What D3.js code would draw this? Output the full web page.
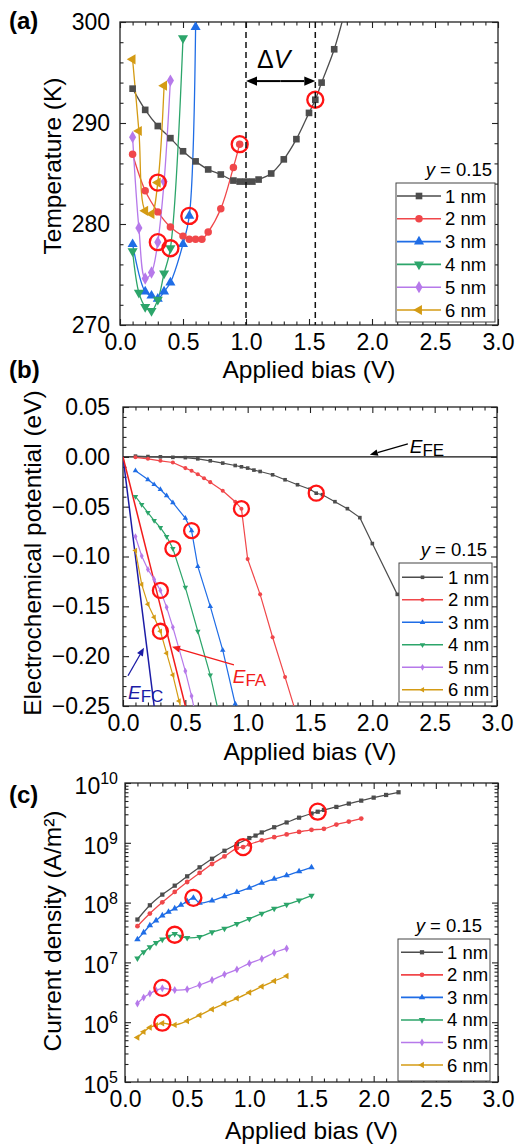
<!DOCTYPE html>
<html>
<head>
<meta charset="utf-8">
<script src="https://cdn.jsdelivr.net/npm/d3@7/dist/d3.min.js"></script>
<style>
html, body { margin:0; padding:0; background:#fff; }
svg { display:block; font-family:"Liberation Sans", Arial, sans-serif; }
</style>
</head>
<body>
<svg id="fig" width="517" height="1146"></svg>
<script>
'use strict';

/* ------------------------------------------------------------------ data */
var LABELS = ['1 nm', '2 nm', '3 nm', '4 nm', '5 nm', '6 nm'];
var LEGEND_TITLE = '0.15';
var X_TICKS = [0, 0.5, 1, 1.5, 2, 2.5, 3];

// (a) temperature (K) vs applied bias (V)
var T_1NM = [[0.1,293.4],[0.2,291.3],[0.3,289.7],[0.4,288.5],[0.5,287.2],[0.6,286.2],[0.7,285.4],[0.8,284.9],[0.9,284.3],[0.95,284.2],[1.0,284.2],[1.05,284.2],[1.1,284.4],[1.2,285.0],[1.3,286.4],[1.4,288.4],[1.5,291.0],[1.55,292.3],[1.6,294.0],[1.7,297.3],[1.8,301.8]];
var T_2NM = [[0.1,286.9],[0.2,283.3],[0.3,281.2],[0.4,279.7],[0.5,278.8],[0.55,278.5],[0.6,278.5],[0.65,278.5],[0.7,279.2],[0.8,281.5],[0.9,285.6],[0.95,287.9]];
var T_3NM = [[0.1,278.0],[0.2,273.3],[0.25,272.9],[0.3,272.6],[0.35,273.3],[0.4,274.2],[0.5,278.0],[0.55,280.8],[0.6,299.5]];
var T_4NM = [[0.1,277.3],[0.15,273.2],[0.2,271.8],[0.25,271.4],[0.3,272.5],[0.35,275.1],[0.4,277.6],[0.5,298.4]];
var T_5NM = [[0.1,288.6],[0.15,279.6],[0.2,274.6],[0.25,275.2],[0.3,278.2],[0.35,284.2],[0.4,294.2]];
var T_6NM = [[0.1,296.3],[0.15,289.2],[0.2,281.3],[0.25,281.0],[0.3,284.1],[0.35,293.7]];
var T_MARKED = [[1.55,292.3],[0.95,287.9],[0.55,280.8],[0.4,277.6],[0.3,278.2],[0.3,284.1]];
var DELTA_V = [1.0, 1.55];

// (b) electrochemical potential (eV) vs applied bias (V)
var E_1NM = [[0.1,0.0007],[0.2,0.0003],[0.3,0.0],[0.4,-0.0005],[0.5,-0.0008],[0.6,-0.002],[0.7,-0.004],[0.8,-0.0063],[0.9,-0.0087],[0.95,-0.010],[1.0,-0.0113],[1.05,-0.0133],[1.1,-0.0147],[1.2,-0.018],[1.3,-0.023],[1.4,-0.028],[1.5,-0.0325],[1.55,-0.0365],[1.6,-0.038],[1.7,-0.045],[1.8,-0.052],[1.9,-0.061],[2.0,-0.087],[2.2,-0.138]];
var E_2NM = [[0.1,-0.0005],[0.2,-0.002],[0.3,-0.004],[0.4,-0.0057],[0.5,-0.0113],[0.55,-0.014],[0.6,-0.0174],[0.65,-0.0214],[0.7,-0.0254],[0.8,-0.034],[0.9,-0.045],[0.95,-0.052],[1.0,-0.1026],[1.1,-0.138],[1.2,-0.181],[1.3,-0.221],[1.4,-0.262]];
var E_3NM = [[0.1,-0.014],[0.2,-0.0228],[0.25,-0.0278],[0.3,-0.0328],[0.35,-0.039],[0.4,-0.046],[0.5,-0.0615],[0.55,-0.074],[0.6,-0.110],[0.7,-0.150],[0.8,-0.194],[0.9,-0.248]];
var E_4NM = [[0.1,-0.0398],[0.15,-0.048],[0.2,-0.056],[0.25,-0.064],[0.3,-0.071],[0.35,-0.080],[0.4,-0.092],[0.5,-0.131],[0.6,-0.175],[0.7,-0.219],[0.8,-0.275]];
var E_5NM = [[0.1,-0.080],[0.15,-0.0995],[0.2,-0.113],[0.25,-0.123],[0.3,-0.134],[0.35,-0.151],[0.4,-0.171],[0.45,-0.193],[0.5,-0.215],[0.55,-0.24],[0.6,-0.27]];
var E_6NM = [[0.1,-0.094],[0.15,-0.128],[0.2,-0.148],[0.25,-0.161],[0.3,-0.175],[0.35,-0.197],[0.4,-0.219],[0.45,-0.245],[0.5,-0.27]];
var E_MARKED = [[1.55,-0.0365],[0.95,-0.052],[0.55,-0.074],[0.4,-0.092],[0.3,-0.134],[0.3,-0.175]];
var E_FC_LINE = [[0,0],[0.25,-0.25]];
var E_FA_LINE = [[0,0],[0.5,-0.25]];

// (c) current density (A/m^2) vs applied bias (V)
var J_1NM = [[0.1,5.21e7],[0.2,9.02e7],[0.3,1.36e8],[0.4,1.92e8],[0.5,2.75e8],[0.6,3.89e8],[0.7,5.41e8],[0.8,7.36e8],[0.9,9.51e8],[1.0,1.20e9],[1.05,1.32e9],[1.1,1.49e9],[1.2,1.82e9],[1.3,2.19e9],[1.4,2.63e9],[1.5,3.09e9],[1.55,3.31e9],[1.6,3.55e9],[1.7,3.98e9],[1.8,4.52e9],[1.9,5.07e9],[2.0,5.69e9],[2.1,6.31e9],[2.2,7.0e9]];
var J_2NM = [[0.1,4.03e7],[0.2,6.56e7],[0.3,1.01e8],[0.4,1.51e8],[0.5,2.21e8],[0.6,3.13e8],[0.7,4.42e8],[0.8,5.92e8],[0.9,8.17e8],[0.95,8.47e8],[1.0,9.38e8],[1.1,1.10e9],[1.2,1.24e9],[1.3,1.38e9],[1.4,1.52e9],[1.5,1.65e9],[1.6,1.71e9],[1.7,2.02e9],[1.8,2.26e9],[1.9,2.54e9]];
var J_3NM = [[0.1,2.42e7],[0.15,3.16e7],[0.2,4.14e7],[0.25,5.01e7],[0.3,6.07e7],[0.35,7.0e7],[0.4,7.94e7],[0.45,9.12e7],[0.5,1.05e8],[0.55,1.20e8],[0.6,9.89e7],[0.7,1.08e8],[0.8,1.27e8],[0.9,1.49e8],[1.0,1.76e8],[1.1,2.13e8],[1.2,2.48e8],[1.3,2.85e8],[1.4,3.33e8],[1.5,3.87e8]];
var J_4NM = [[0.1,1.17e7],[0.15,1.49e7],[0.2,1.80e7],[0.25,2.13e7],[0.3,2.42e7],[0.35,2.69e7],[0.4,3.01e7],[0.45,2.69e7],[0.5,2.58e7],[0.6,2.68e7],[0.7,3.20e7],[0.8,3.69e7],[0.9,4.42e7],[1.0,5.35e7],[1.1,6.56e7],[1.2,7.94e7],[1.3,9.27e7],[1.4,1.09e8],[1.5,1.31e8]];
var J_5NM = [[0.1,2.05e6],[0.15,2.58e6],[0.2,3.01e6],[0.25,3.41e6],[0.3,3.69e6],[0.4,3.45e6],[0.5,3.55e6],[0.6,4.19e6],[0.7,5.07e6],[0.8,6.31e6],[0.9,7.64e6],[1.0,9.62e6],[1.1,1.15e7],[1.2,1.45e7],[1.3,1.71e7]];
var J_6NM = [[0.1,5.56e5],[0.15,6.89e5],[0.2,8.17e5],[0.25,8.91e5],[0.3,9.62e5],[0.4,9.02e5],[0.5,1.05e6],[0.6,1.31e6],[0.7,1.65e6],[0.8,2.05e6],[0.9,2.51e6],[1.0,3.13e6],[1.1,3.94e6],[1.2,4.88e6],[1.3,5.92e6]];
var J_MARKED = [[1.55,3.31e9],[0.95,8.47e8],[0.55,1.20e8],[0.4,2.9e7],[0.3,3.75e6],[0.3,9.8e5]];

/* ---------------------------------------------------------------- styles */
var COLORS = ['#4d4d4d', '#f0474a', '#1f6de6', '#2ca56a', '#b679ea', '#d49b14'];
var SHAPES = [
    { type:d3.symbolSquare,   rot:0 },
    { type:d3.symbolCircle,   rot:0 },
    { type:d3.symbolTriangle, rot:0 },
    { type:d3.symbolTriangle, rot:180 },
    { type:d3.symbolDiamond,  rot:0 },
    { type:d3.symbolTriangle, rot:-90 }
];
var AXIS = '#222';
var TICK_FONT = '23px', TITLE_FONT = '24.5px', LEG_FONT = '18.5px';
var svg = d3.select('#fig');
var smooth = d3.curveCatmullRom.alpha(0.5);

function range(a, b, step){
    var out = [];
    for (var v = a; v <= b + 1e-9; v += step) out.push(+v.toFixed(4));
    return out;
}
function notIn(list){ return function(v){ return !list.some(function(m){ return Math.abs(m - v) < 1e-9; }); }; }

/* ------------------------------------------------------------ one panel */
function panel(cfg){
    var g = svg.append('g').attr('class', 'panel-' + cfg.id);
    var x = d3.scaleLinear([0, 3], [cfg.left, cfg.right]);
    var y = (cfg.log ? d3.scaleLog() : d3.scaleLinear()).domain(cfg.yDom).range([cfg.bottom, cfg.top]);

    var clipId = 'clip-' + cfg.id;
    svg.append('clipPath').attr('id', clipId).append('rect')
        .attr('x', cfg.left).attr('y', cfg.top)
        .attr('width', cfg.right - cfg.left).attr('height', cfg.bottom - cfg.top);

    // ticks point inward on all four sides, minor ticks in between
    var xMinor = range(0, 3, 0.1).filter(notIn(X_TICKS));
    function axis(gen, scale, vals, size, pos, fmt, pad){
        var a = gen(scale).tickValues(vals).tickSize(size).tickPadding(pad || 0)
            .tickFormat(fmt || function(){ return ''; });
        var s = g.append('g').attr('transform', pos).call(a);
        s.select('.domain').remove();
        s.selectAll('line').attr('stroke', AXIS).attr('stroke-width', 1.1);
        s.selectAll('text').attr('font-size', TICK_FONT).attr('fill', '#000')
            .attr('font-family', '"Liberation Sans", Arial, sans-serif');
        return s;
    }
    var bx = 'translate(0,' + cfg.bottom + ')', tx = 'translate(0,' + cfg.top + ')';
    var lx = 'translate(' + cfg.left + ',0)', rx = 'translate(' + cfg.right + ',0)';
    axis(d3.axisBottom, x, X_TICKS, -6, bx, d3.format('.1f'), 9);
    axis(d3.axisBottom, x, xMinor, -3.5, bx);
    axis(d3.axisTop, x, X_TICKS, -6, tx);
    axis(d3.axisTop, x, xMinor, -3.5, tx);
    var left = axis(d3.axisLeft, y, cfg.yMajor, -6, lx, cfg.yFmt, cfg.yPad);
    axis(d3.axisLeft, y, cfg.yMinor, -3.5, lx);
    axis(d3.axisRight, y, cfg.yMajor, -6, rx);
    axis(d3.axisRight, y, cfg.yMinor, -3.5, rx);

    if (cfg.log){
        left.selectAll('.tick text').each(function(d){
            var t = d3.select(this).text(null).attr('dy', '0.45em');
            t.append('tspan').text('10');
            t.append('tspan').attr('dy', '-0.6em').attr('font-size', '16px')
                .text(Math.round(Math.log10(d)));
        });
    }

    g.append('rect').attr('x', cfg.left).attr('y', cfg.top)
        .attr('width', cfg.right - cfg.left).attr('height', cfg.bottom - cfg.top)
        .attr('fill', 'none').attr('stroke', AXIS).attr('stroke-width', 1.3);

    var plot = g.append('g').attr('clip-path', 'url(#' + clipId + ')');
    var extra = plot.append('g');
    var line = d3.line().x(function(d){ return x(d[0]); }).y(function(d){ return y(d[1]); })
        .curve(cfg.curve || d3.curveLinear);

    cfg.series.forEach(function(pts, i){
        plot.append('path').datum(pts).attr('d', line)
            .attr('fill', 'none').attr('stroke', COLORS[i]).attr('stroke-width', cfg.lw);
    });
    cfg.series.forEach(function(pts, i){
        plot.append('g').selectAll('path').data(pts).join('path')
            .attr('transform', function(d){ return 'translate(' + x(d[0]) + ',' + y(d[1]) + ') rotate(' + SHAPES[i].rot + ')'; })
            .attr('d', d3.symbol(SHAPES[i].type, cfg.mk))
            .attr('fill', COLORS[i]);
    });

    plot.append('g').selectAll('circle').data(cfg.marked).join('circle')
        .attr('cx', function(d){ return x(d[0]); }).attr('cy', function(d){ return y(d[1]); })
        .attr('r', cfg.ring).attr('fill', 'none').attr('stroke', '#ff1414').attr('stroke-width', 2.3);

    // axis titles and panel tag
    svg.append('text').attr('x', (cfg.left + cfg.right) / 2).attr('y', cfg.xTitleY)
        .attr('text-anchor', 'middle').attr('font-size', TITLE_FONT).text('Applied bias (V)');
    svg.append('text').attr('transform', 'translate(' + cfg.yTitleX + ',' + cfg.yTitleC + ') rotate(-90)')
        .attr('text-anchor', 'middle').attr('font-size', TITLE_FONT).text(cfg.yTitle);
    svg.append('text').attr('x', 9).attr('y', cfg.tagY).attr('font-size', '24px')
        .attr('font-weight', 'bold').text(cfg.tag);

    legend(cfg.legend, cfg.mk, cfg.lw);
    return { x:x, y:y, g:g, plot:plot, extra:extra };
}

/* --------------------------------------------------------------- legend */
function legend(L, mk, lw){
    var g = svg.append('g');
    var t = g.append('text').attr('x', L.titleX).attr('y', L.titleY)
        .attr('text-anchor', 'end').attr('font-size', LEG_FONT);
    t.append('tspan').attr('font-style', 'italic').text('y');
    t.append('tspan').text(' = ' + LEGEND_TITLE);
    g.append('rect').attr('x', L.x).attr('y', L.y).attr('width', L.w).attr('height', L.h)
        .attr('fill', '#fff').attr('stroke', '#444').attr('stroke-width', 1);
    LABELS.forEach(function(lab, i){
        var cy = L.row0 + i * L.dy;
        g.append('line').attr('x1', L.x0).attr('x2', L.x1).attr('y1', cy).attr('y2', cy)
            .attr('stroke', COLORS[i]).attr('stroke-width', lw + 0.3);
        g.append('path').attr('transform', 'translate(' + ((L.x0 + L.x1) / 2) + ',' + cy + ') rotate(' + SHAPES[i].rot + ')')
            .attr('d', d3.symbol(SHAPES[i].type, mk)).attr('fill', COLORS[i]);
        g.append('text').attr('x', L.tx).attr('y', cy + 6.5).attr('font-size', LEG_FONT).text(lab);
    });
}

function arrow(g, x1, y1, x2, y2, color, w, head){
    var a = Math.atan2(y2 - y1, x2 - x1), hl = head || 9, hw = hl * 0.42;
    var bx = x2 - hl * Math.cos(a), by = y2 - hl * Math.sin(a);
    g.append('line').attr('x1', x1).attr('y1', y1).attr('x2', bx).attr('y2', by)
        .attr('stroke', color).attr('stroke-width', w);
    g.append('path').attr('fill', color).attr('d',
        'M' + x2 + ',' + y2 +
        'L' + (bx + hw * Math.sin(a)) + ',' + (by - hw * Math.cos(a)) +
        'L' + (bx - hw * Math.sin(a)) + ',' + (by + hw * Math.cos(a)) + 'Z');
}

/* --------------------------------------------------------- panel (a) */
var A = panel({
    id:'a', left:120, right:498, top:22, bottom:325,
    yDom:[270, 300], yMajor:[270, 280, 290, 300], yMinor:range(270, 300, 2).filter(notIn([270, 280, 290, 300])),
    yFmt:d3.format('d'), yPad:10, series:[T_1NM, T_2NM, T_3NM, T_4NM, T_5NM, T_6NM], marked:T_MARKED,
    curve:smooth, mk:44, lw:1.3, ring:8, yTitle:'Temperature (K)', yTitleX:61, yTitleC:166, tag:'(a)', tagY:29, xTitleY:378,
    legend:{ x:396, y:183, w:99, h:139, row0:196, dy:22.8, x0:397, x1:441, tx:445, titleX:492, titleY:176 }
});
DELTA_V.forEach(function(v){
    A.g.append('line').attr('x1', A.x(v)).attr('x2', A.x(v)).attr('y1', A.y(300)).attr('y2', A.y(270))
        .attr('stroke', '#111').attr('stroke-width', 1.5).attr('stroke-dasharray', '6 4');
});
var ay = A.y(294.15);
arrow(A.g, (A.x(DELTA_V[0]) + A.x(DELTA_V[1])) / 2, ay, A.x(DELTA_V[1]), ay, '#000', 2, 11);
arrow(A.g, (A.x(DELTA_V[0]) + A.x(DELTA_V[1])) / 2, ay, A.x(DELTA_V[0]), ay, '#000', 2, 11);
var dv = A.g.append('text').attr('x', A.x(1.087)).attr('y', A.y(295.4)).attr('font-size', '25px');
dv.append('tspan').text('\u0394');
dv.append('tspan').attr('font-style', 'italic').text('V');

/* --------------------------------------------------------- panel (b) */
var B = panel({
    id:'b', left:123, right:497, top:407, bottom:706,
    yDom:[-0.25, 0.05], yMajor:[-0.25, -0.2, -0.15, -0.1, -0.05, 0, 0.05],
    yMinor:range(-0.25, 0.05, 0.01).filter(notIn([-0.25, -0.2, -0.15, -0.1, -0.05, 0, 0.05])),
    yFmt:d3.format('.2f'), yPad:13, series:[E_1NM, E_2NM, E_3NM, E_4NM, E_5NM, E_6NM], marked:E_MARKED,
    mk:13, lw:1.2, ring:7.5, yTitle:'Electrochemical potential (eV)', yTitleX:41, yTitleC:553, tag:'(b)', tagY:378, xTitleY:760,
    legend:{ x:399, y:563, w:93, h:139, row0:577.3, dy:22.5, x0:402, x1:443, tx:448, titleX:487, titleY:556 }
});
var bl = d3.line().x(function(d){ return B.x(d[0]); }).y(function(d){ return B.y(d[1]); });
B.extra.append('line').attr('x1', B.x(0)).attr('x2', B.x(3)).attr('y1', B.y(0)).attr('y2', B.y(0))
    .attr('stroke', '#111').attr('stroke-width', 1.3);
B.extra.append('path').datum(E_FC_LINE).attr('d', bl).attr('fill', 'none').attr('stroke', '#1c1ca6').attr('stroke-width', 1.5);
B.extra.append('path').datum(E_FA_LINE).attr('d', bl).attr('fill', 'none').attr('stroke', '#f21c1c').attr('stroke-width', 1.5);

function eLabel(v, e, sub, color){
    var t = B.g.append('text').attr('x', B.x(v)).attr('y', B.y(e)).attr('fill', color).attr('font-size', '19px');
    t.append('tspan').attr('font-style', 'italic').text('E');
    t.append('tspan').attr('dy', 3).attr('font-size', '17px').text(sub);
}
eLabel(2.30, 0.0043, 'FE', '#000');
eLabel(0.04, -0.243, 'FC', '#1c1ca6');
eLabel(0.88, -0.227, 'FA', '#f21c1c');
arrow(B.g, B.x(2.285), B.y(0.013), B.x(1.98), B.y(0.002), '#000', 1.2, 8);
arrow(B.g, B.x(0.04), B.y(-0.2197), B.x(0.168), B.y(-0.1916), '#1c1ca6', 1.3, 8);
arrow(B.g, B.x(0.89), B.y(-0.2087), B.x(0.393), B.y(-0.1906), '#f21c1c', 1.3, 8);

/* --------------------------------------------------------- panel (c) */
var J_MAJOR = [1e5, 1e6, 1e7, 1e8, 1e9, 1e10];
var J_MINOR = [];
[1e5, 1e6, 1e7, 1e8, 1e9].forEach(function(p){ for (var k = 2; k <= 9; k++) J_MINOR.push(p * k); });
panel({
    id:'c', left:125, right:498, top:783, bottom:1082, log:true,
    yDom:[1e5, 1e10], yMajor:J_MAJOR, yMinor:J_MINOR, yFmt:function(d){ return d; }, yPad:7,
    series:[J_1NM, J_2NM, J_3NM, J_4NM, J_5NM, J_6NM], marked:J_MARKED,
    curve:smooth, mk:18, lw:1.3, ring:8, yTitle:'Current density (A/m\u00b2)', yTitleX:61, yTitleC:931, tag:'(c)', tagY:803, xTitleY:1139,
    legend:{ x:398, y:939, w:92, h:142, row0:952.3, dy:22.55, x0:401, x1:443, tx:447, titleX:482, titleY:932 }
});
</script>
</body>
</html>
